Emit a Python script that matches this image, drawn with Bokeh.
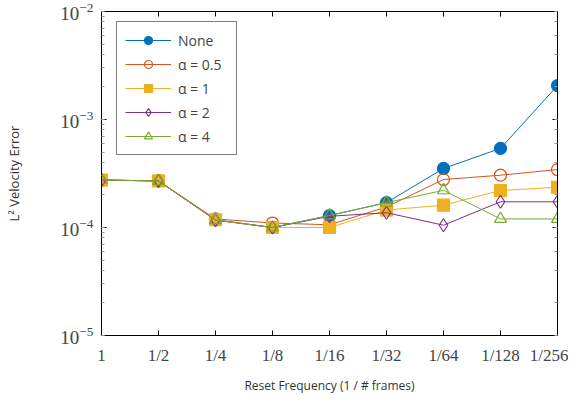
from bokeh.plotting import figure
from bokeh.models import (LogAxis, LinearAxis, FixedTicker, Legend, LegendItem,
                          Range1d, LogTicker, CustomJSTickFormatter)
from bokeh.embed import file_html
from bokeh.resources import INLINE

x_labels = ["1", "1/2", "1/4", "1/8", "1/16", "1/32", "1/64", "1/128", "1/256"]
x_idx = list(range(len(x_labels)))

none_vals = [2.75e-4, 2.7e-4, 1.18e-4, 1.0e-4, 1.29e-4, 1.70e-4, 3.52e-4, 5.4e-4, 2.06e-3]
a05_vals = [2.75e-4, 2.7e-4, 1.2e-4, 1.1e-4, 1.06e-4, 1.55e-4, 2.78e-4, 3.05e-4, 3.44e-4]
a1_vals = [2.75e-4, 2.7e-4, 1.18e-4, 1.0e-4, 1.0e-4, 1.45e-4, 1.61e-4, 2.2e-4, 2.36e-4]
a2_vals = [2.75e-4, 2.7e-4, 1.17e-4, 1.0e-4, 1.27e-4, 1.37e-4, 1.05e-4, 1.73e-4, 1.73e-4]
a4_vals = [2.75e-4, 2.7e-4, 1.17e-4, 1.0e-4, 1.29e-4, 1.70e-4, 2.21e-4, 1.2e-4, 1.2e-4]

series = [
    ("None", none_vals, "#0072BD", "circle", True, 12),
    ("α = 0.5", a05_vals, "#D95319", "circle", False, 12),
    ("α = 1", a1_vals, "#EDB120", "square", True, 12),
    ("α = 2", a2_vals, "#7E2F8E", "diamond", False, 13),
    ("α = 4", a4_vals, "#77AC30", "triangle", False, 12),
]

p = figure(y_axis_type="log",
           x_range=Range1d(0, 8), y_range=Range1d(1e-5, 1e-2),
           output_backend="svg", toolbar_location=None,
           frame_width=456, frame_height=324,
           min_border_left=101, min_border_right=11,
           min_border_top=11, min_border_bottom=52)

p.grid.visible = False
p.outline_line_color = "black"
p.outline_line_width = 1

tick_font = "Liberation Serif"
xa = p.xaxis[0]
xa.ticker = FixedTicker(ticks=x_idx)
xa.major_label_overrides = {i: l for i, l in zip(x_idx, x_labels)}
xa.major_label_text_font = tick_font
xa.major_label_text_font_size = "17px"
xa.major_tick_in = 5
xa.major_tick_out = 0
xa.minor_tick_in = 0
xa.minor_tick_out = 0
xa.axis_label = "Reset Frequency (1 / # frames)"
xa.axis_label_text_font = "Open Sans"
xa.axis_label_text_font_style = "normal"
xa.axis_label_text_font_size = "12px"
xa.axis_label_text_color = "#333333"
xa.axis_label_standoff = 9
xa.major_label_standoff = 10

ya = p.yaxis[0]
ya.major_label_text_font = tick_font
ya.major_label_text_font_size = "19px"
ya.major_tick_in = 5
ya.major_tick_out = 0
ya.minor_tick_in = 3
ya.minor_tick_out = 0
ya.minor_tick_line_color = "#999999"
ya.axis_label = "L² Velocity Error"
ya.axis_label_text_font = "Open Sans"
ya.axis_label_text_font_style = "normal"
ya.axis_label_text_font_size = "13px"
ya.axis_label_text_color = "#333333"
ya.axis_label_standoff = 34
ya.major_label_standoff = 8

top = LinearAxis(ticker=FixedTicker(ticks=x_idx), formatter=CustomJSTickFormatter(code="return ''"),
                 major_tick_in=5, major_tick_out=0, minor_tick_in=0, minor_tick_out=0,
                 major_label_standoff=0)
right = LogAxis(ticker=LogTicker(), formatter=CustomJSTickFormatter(code="return ''"),
                major_tick_in=5, major_tick_out=0, minor_tick_in=3, minor_tick_out=0,
                minor_tick_line_color="#999999", major_label_standoff=0)
p.add_layout(top, "above")
p.add_layout(right, "right")

items = []
for name, vals, color, marker, filled, size in series:
    r_line = p.line(x_idx, vals, line_color=color, line_width=1)
    r_pts = p.scatter(x_idx, vals, marker=marker, size=size, line_color=color,
                      line_width=1.2,
                      fill_color=color if filled else "white",
                      fill_alpha=1.0 if filled else 0.0)
    items.append(LegendItem(label=name, renderers=[r_line, r_pts]))

legend = Legend(items=items, location=(15, 180), margin=0,
                border_line_color="black", border_line_width=1,
                glyph_width=46, glyph_height=20, spacing=4,
                label_text_font="Open Sans", label_text_font_size="14px",
                label_width=50, padding=8, label_standoff=7)
p.add_layout(legend, "center")

open("out.html", "w").write(file_html(p, INLINE))
